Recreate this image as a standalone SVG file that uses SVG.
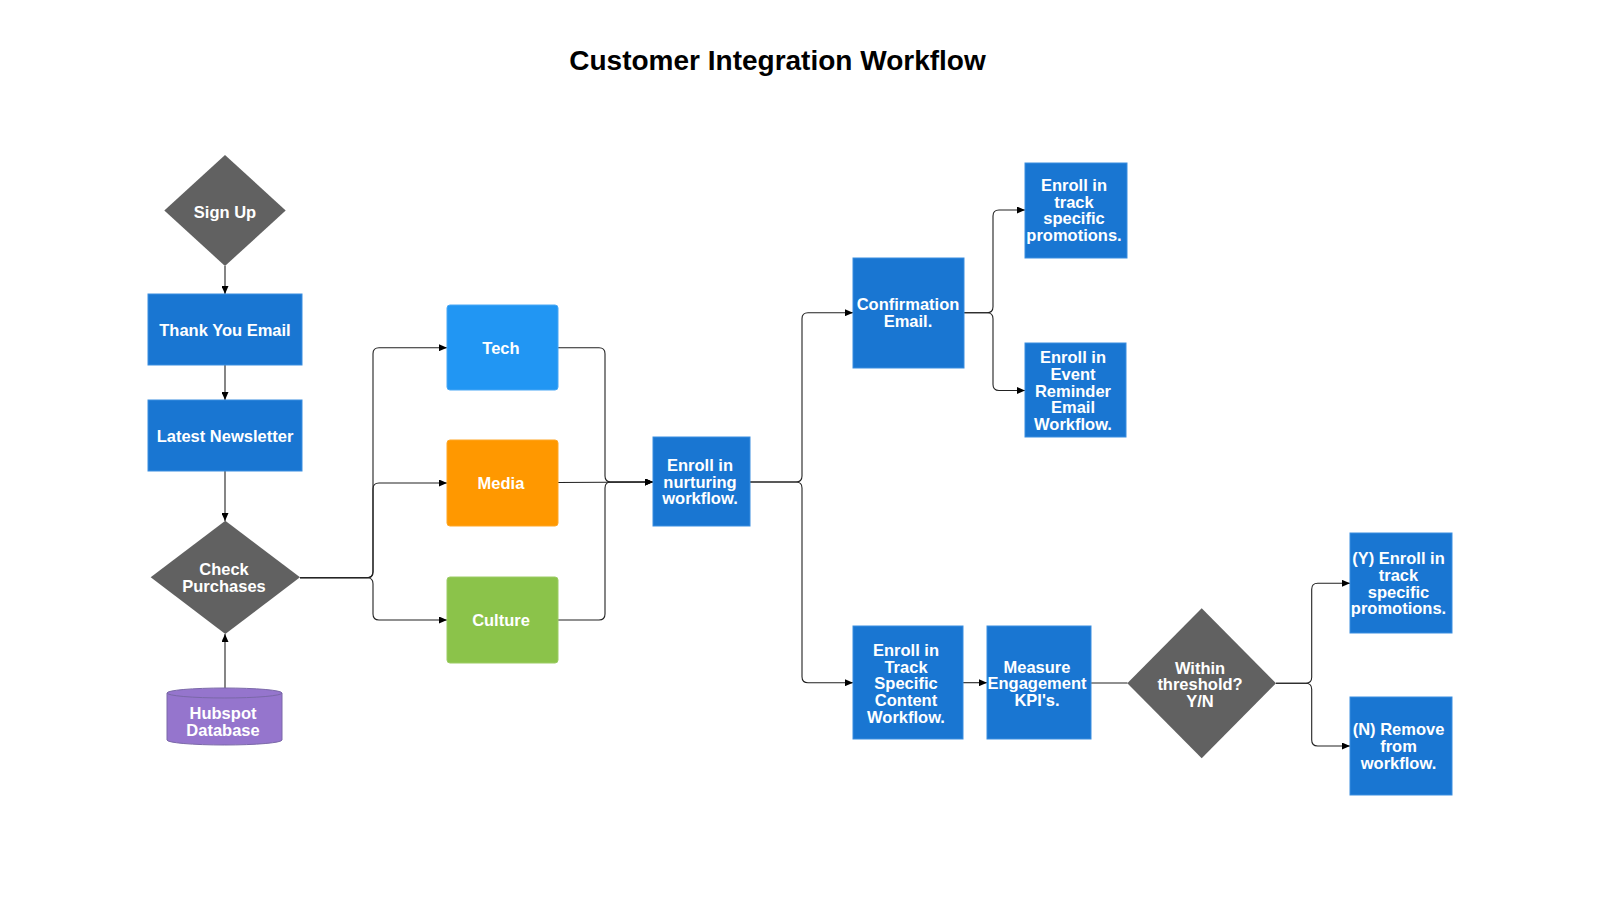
<svg xmlns="http://www.w3.org/2000/svg" width="1600" height="900" viewBox="0 0 1600 900">
<defs>
<style>
.box{fill:#1976D2;stroke:#3a8ee0;stroke-width:1}
.dia{fill:#616161}
.lbl{font-family:"Liberation Sans",Arial,sans-serif;font-weight:bold;font-size:16.5px;fill:#ffffff;text-anchor:middle}
.title{font-family:"Liberation Sans",Arial,sans-serif;font-weight:bold;font-size:28px;fill:#000000;text-anchor:middle}
.edge{fill:none;stroke:#222222;stroke-width:1.1}
</style>
<marker id="arr" markerUnits="userSpaceOnUse" markerWidth="8" markerHeight="7" refX="8" refY="3.5" orient="auto">
<path d="M0,0 L8,3.5 L0,7 z" fill="#000000"/>
</marker>
</defs>
<rect x="0" y="0" width="1600" height="900" fill="#ffffff"/>
<text class="title" x="777.5" y="70">Customer Integration Workflow</text>

<g id="connectors">
<path class="edge" marker-end="url(#arr)" d="M225,266 L225,294"/>
<path class="edge" marker-end="url(#arr)" d="M225,365 L225,400"/>
<path class="edge" marker-end="url(#arr)" d="M225,471 L225,521"/>
<path class="edge" marker-end="url(#arr)" d="M225,688 L225,634"/>
<path class="edge" marker-end="url(#arr)" d="M300,577.7 L367,577.7 Q373,577.7 373,571.7 L373,353.7 Q373,347.7 379,347.7 L447,347.7"/>
<path class="edge" marker-end="url(#arr)" d="M300,577.7 L367,577.7 Q373,577.7 373,571.7 L373,489 Q373,483 379,483 L447,483"/>
<path class="edge" marker-end="url(#arr)" d="M300,577.7 L367,577.7 Q373,577.7 373,583.7 L373,614 Q373,620 379,620 L447,620"/>
<path class="edge" marker-end="url(#arr)" d="M558,347.7 L599,347.7 Q605,347.7 605,353.7 L605,476 Q605,482 611,482 L653,482"/>
<path class="edge" marker-end="url(#arr)" d="M558,482.5 L653,482"/>
<path class="edge" marker-end="url(#arr)" d="M558,620 L599,620 Q605,620 605,614 L605,488 Q605,482 611,482 L653,482"/>
<path class="edge" marker-end="url(#arr)" d="M750,482 L796,482 Q802,482 802,476 L802,318.7 Q802,312.7 808,312.7 L853,312.7"/>
<path class="edge" marker-end="url(#arr)" d="M750,482 L796,482 Q802,482 802,488 L802,676.7 Q802,682.7 808,682.7 L853,682.7"/>
<path class="edge" marker-end="url(#arr)" d="M964,312.7 L987,312.7 Q993,312.7 993,306.7 L993,216 Q993,210 999,210 L1025,210"/>
<path class="edge" marker-end="url(#arr)" d="M964,312.7 L987,312.7 Q993,312.7 993,318.7 L993,384.5 Q993,390.5 999,390.5 L1025,390.5"/>
<path class="edge" marker-end="url(#arr)" d="M963,682.7 L987,682.7"/>
<path class="edge" d="M1091,683 L1127.5,683"/>
<path class="edge" marker-end="url(#arr)" d="M1276,683.3 L1305.7,683.3 Q1311.7,683.3 1311.7,677.3 L1311.7,589.3 Q1311.7,583.3 1317.7,583.3 L1350,583.3"/>
<path class="edge" marker-end="url(#arr)" d="M1276,683.3 L1305.7,683.3 Q1311.7,683.3 1311.7,689.3 L1311.7,740 Q1311.7,746 1317.7,746 L1350,746"/>
</g>

<g id="signup">
<polygon class="dia" points="225,155 285.7,210.5 225,266 164.3,210.5"/>
<text class="lbl" x="225" y="217.5">Sign Up</text>
</g>
<g id="thankyou">
<rect class="box" x="148" y="294" width="154" height="71"/>
<text class="lbl" x="225" y="335.5">Thank You Email</text>
</g>
<g id="newsletter">
<rect class="box" x="148" y="400" width="154" height="71"/>
<text class="lbl" x="225" y="441.5">Latest Newsletter</text>
</g>
<g id="checkpurchases">
<polygon class="dia" points="225.3,520.7 300,577.3 225.3,634 150.7,577.3"/>
<text class="lbl" x="224" y="575.3">Check</text>
<text class="lbl" x="224" y="592">Purchases</text>
</g>
<g id="hubspot">
<path d="M167,693 A57.5,5 0 0 1 282,693 L282,740 A57.5,5 0 0 1 167,740 Z" fill="#9575CD" stroke="#7a68a8" stroke-width="1"/>
<path d="M167,693 A57.5,5 0 0 0 282,693" fill="none" stroke="#7a68a8" stroke-width="1"/>
<text class="lbl" x="223" y="719.3">Hubspot</text>
<text class="lbl" x="223" y="736">Database</text>
</g>
<g id="tech">
<rect x="447" y="305" width="111" height="85" rx="3" fill="#2196F3" stroke="#4aa8f5" stroke-width="1"/>
<text class="lbl" x="501" y="354">Tech</text>
</g>
<g id="media">
<rect x="447" y="440" width="111" height="86" rx="3" fill="#FF9800" stroke="#ffa726" stroke-width="1"/>
<text class="lbl" x="501" y="489">Media</text>
</g>
<g id="culture">
<rect x="447" y="577" width="111" height="86" rx="3" fill="#8BC34A" stroke="#9ccc65" stroke-width="1"/>
<text class="lbl" x="501" y="626">Culture</text>
</g>
<g id="nurturing">
<rect class="box" x="653" y="437" width="97" height="89"/>
<text class="lbl" x="700" y="471">Enroll in</text>
<text class="lbl" x="700" y="487.7">nurturing</text>
<text class="lbl" x="700" y="504.3">workflow.</text>
</g>
<g id="confirmation">
<rect class="box" x="853" y="258" width="111" height="110"/>
<text class="lbl" x="908" y="310">Confirmation</text>
<text class="lbl" x="908" y="327.3">Email.</text>
</g>
<g id="trackpromo">
<rect class="box" x="1025" y="163" width="102" height="95"/>
<text class="lbl" x="1074" y="191">Enroll in</text>
<text class="lbl" x="1074" y="207.7">track</text>
<text class="lbl" x="1074" y="224.3">specific</text>
<text class="lbl" x="1074" y="241">promotions.</text>
</g>
<g id="eventreminder">
<rect class="box" x="1025" y="343" width="101" height="94"/>
<text class="lbl" x="1073" y="363.3">Enroll in</text>
<text class="lbl" x="1073" y="380">Event</text>
<text class="lbl" x="1073" y="396.7">Reminder</text>
<text class="lbl" x="1073" y="413.3">Email</text>
<text class="lbl" x="1073" y="430">Workflow.</text>
</g>
<g id="trackcontent">
<rect class="box" x="853" y="626" width="110" height="113"/>
<text class="lbl" x="906" y="656">Enroll in</text>
<text class="lbl" x="906" y="672.7">Track</text>
<text class="lbl" x="906" y="689.3">Specific</text>
<text class="lbl" x="906" y="706">Content</text>
<text class="lbl" x="906" y="722.7">Workflow.</text>
</g>
<g id="measure">
<rect class="box" x="987" y="626" width="104" height="113"/>
<text class="lbl" x="1037" y="672.7">Measure</text>
<text class="lbl" x="1037" y="689.3">Engagement</text>
<text class="lbl" x="1037" y="706">KPI's.</text>
</g>
<g id="threshold">
<polygon class="dia" points="1201.7,608.3 1276,683.3 1201.7,758.3 1127.3,683.3"/>
<text class="lbl" x="1200" y="673.7">Within</text>
<text class="lbl" x="1200" y="690.3">threshold?</text>
<text class="lbl" x="1200" y="707">Y/N</text>
</g>
<g id="yes">
<rect class="box" x="1350" y="533" width="102" height="100"/>
<text class="lbl" x="1398.5" y="564.3">(Y) Enroll in</text>
<text class="lbl" x="1398.5" y="581">track</text>
<text class="lbl" x="1398.5" y="597.7">specific</text>
<text class="lbl" x="1398.5" y="614.3">promotions.</text>
</g>
<g id="no">
<rect class="box" x="1350" y="697" width="102" height="98"/>
<text class="lbl" x="1398.5" y="735.3">(N) Remove</text>
<text class="lbl" x="1398.5" y="752">from</text>
<text class="lbl" x="1398.5" y="768.7">workflow.</text>
</g>
</svg>
